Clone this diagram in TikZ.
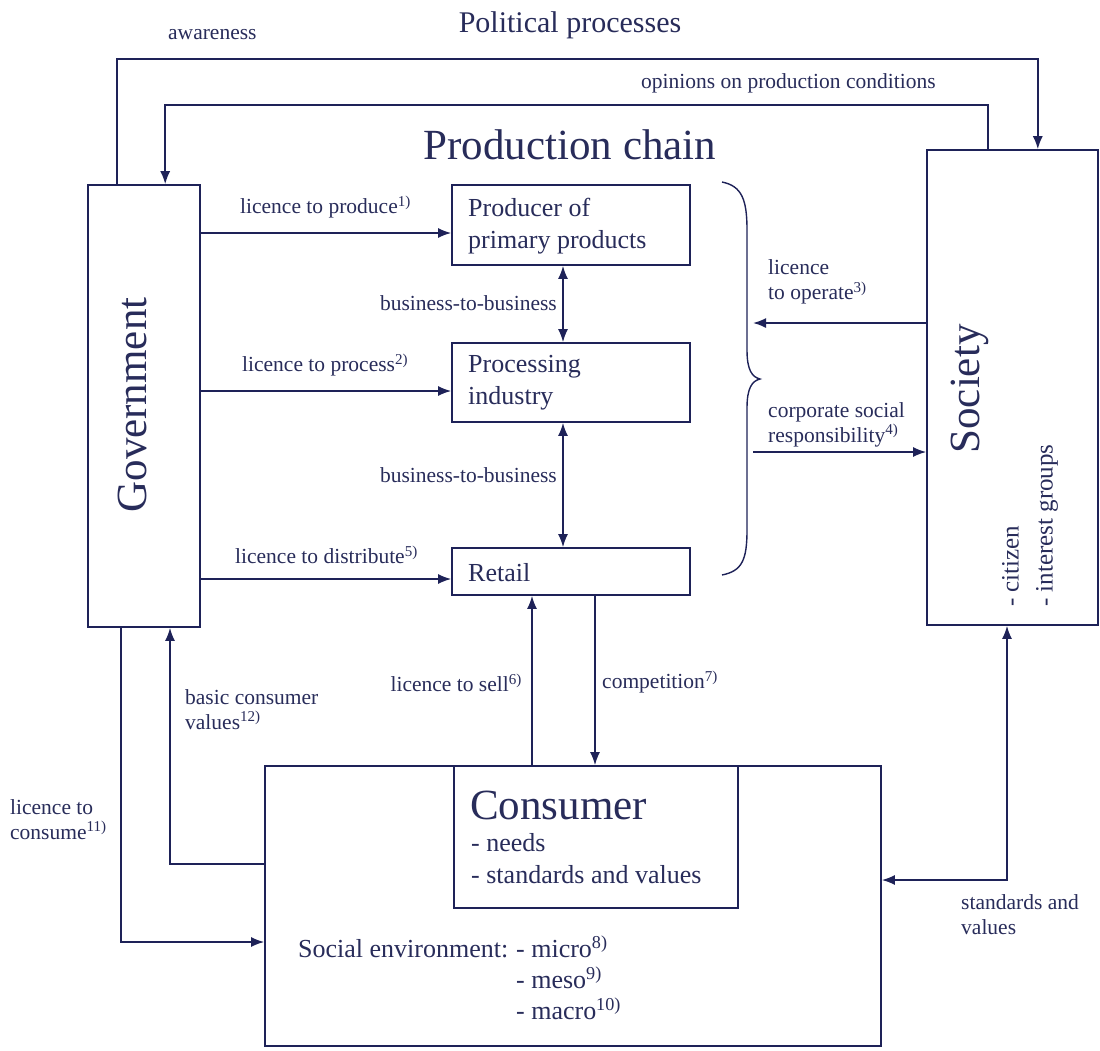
\documentclass[tikz,border=0pt]{standalone}
\usepackage{fontspec}
\setmainfont{Liberation Serif}
\usetikzlibrary{arrows.meta}
\definecolor{navy}{RGB}{30,34,88}
\definecolor{inkc}{RGB}{40,44,90}
\begin{document}
\begin{tikzpicture}[x=1pt,y=-1pt,
  box/.style={draw=navy,line width=1.6pt,inner sep=0pt,rectangle},
  arr/.style={draw=navy,line width=1.7pt,-{Latex[length=13pt,width=10pt]}},
  dbl/.style={draw=navy,line width=1.7pt,{Latex[length=13pt,width=10pt]}-{Latex[length=13pt,width=10pt]}},
  lab/.style={text=inkc,inner sep=0pt,font=\fontsize{21.5}{25}\selectfont,align=left},
  boxtxt/.style={text=inkc,inner sep=0pt,font=\fontsize{26}{32}\selectfont,align=left},
  big/.style={text=inkc,inner sep=0pt,font=\fontsize{43}{48}\selectfont}]
\useasboundingbox[fill=white] (0,0) rectangle (1100,1050);

% main boxes
\node[box,minimum width=112pt,minimum height=442pt] (gov) at (144,406) {};
\node[box,minimum width=171pt,minimum height=475pt] (soc) at (1012.5,387.5) {};
\node[box,minimum width=238pt,minimum height=80pt] (prod) at (571,225) {};
\node[box,minimum width=238pt,minimum height=79pt] (proc) at (571,382.5) {};
\node[box,minimum width=238pt,minimum height=47pt] (retail) at (571,571.5) {};
\node[box,minimum width=616pt,minimum height=280pt] (cout) at (573,906) {};
\node[box,minimum width=284pt,minimum height=142pt] (cin) at (596,837) {};

% titles
\node[text=inkc,inner sep=0pt,font=\fontsize{30}{34}\selectfont] (pol) at (570,25) {Political processes};
\node[big] (pchain) at (570,145) {Production chain};
\node[big,rotate=90] (govtxt) at (132,405) {Government};
\node[big,rotate=90] (soctxt) at (970,389) {Society};
\node[text=inkc,inner sep=0pt,font=\fontsize{25}{34}\selectfont,align=left,rotate=90,anchor=west] (soclist) at (1030,607) {- citizen\\- interest groups};

% box texts
\node[boxtxt,anchor=west] (prodtxt) at (468,226) {Producer of\\primary products};
\node[boxtxt,anchor=west] (proctxt) at (468,383) {Processing\\industry};
\node[boxtxt,anchor=west] (rettxt) at (468,573) {Retail};
\node[big,anchor=west] (constxt) at (470,805) {Consumer};
\node[boxtxt,anchor=west] (conslist) at (471,859) {- needs\\- standards and values};
\node[boxtxt,anchor=north west,font=\fontsize{26}{31}\selectfont] (socenv) at (298,936) {\begin{tabular}{@{}l@{\hspace{0.3em}}l@{}}Social environment: &- micro\textsuperscript{8)}\\ &- meso\textsuperscript{9)}\\ &- macro\textsuperscript{10)}\end{tabular}};

% labels
\node[lab,anchor=west] (lawar) at (168,35) {awareness};
\node[lab,anchor=west] (lopin) at (641,83) {opinions on production conditions};
\node[lab,anchor=west] (lprod) at (240,207) {licence to produce\textsuperscript{1)}};
\node[lab,anchor=west] (lproc) at (242,365) {licence to process\textsuperscript{2)}};
\node[lab,anchor=west] (ldist) at (235,555) {licence to distribute\textsuperscript{5)}};
\node[lab,anchor=east] (lbb1) at (557,303) {business-to-business};
\node[lab,anchor=east] (lbb2) at (557,475) {business-to-business};
\node[lab,anchor=west] (lop) at (768,282) {licence\\to operate\textsuperscript{3)}};
\node[lab,anchor=west] (lcsr) at (768,424.5) {corporate social\\responsibility\textsuperscript{4)}};
\node[lab,anchor=east] (lsell) at (522,683) {licence to sell\textsuperscript{6)}};
\node[lab,anchor=west] (lcomp) at (602,682) {competition\textsuperscript{7)}};
\node[lab,anchor=west] (lbasic) at (185,709.5) {basic consumer\\values\textsuperscript{12)}};
\node[lab,anchor=west] (lcons) at (10,819.5) {licence to\\consume\textsuperscript{11)}};
\node[lab,anchor=west] (lstd) at (961,914.5) {standards and\\values};

% political process loops
\draw[arr] ([xshift=30pt]gov.north west) -- ++(0,-125) -| ([xshift=-61pt]soc.north east);
\draw[arr] ([xshift=62pt]soc.north west) -- ++(0,-44) -| ([xshift=78pt]gov.north west);

% licences from government
\coordinate (p1) at ([yshift=-8pt]prod.west);
\coordinate (p2) at ([yshift=-8.5pt]proc.west);
\coordinate (p3) at ([yshift=-7.5pt]retail.west);
\draw[arr] (gov.east |- p1) -- (p1);
\draw[arr] (gov.east |- p2) -- (p2);
\draw[arr] (gov.east |- p3) -- (p3);

% business to business
\draw[dbl] ([xshift=-8pt]prod.south) -- ([xshift=-8pt]proc.north);
\draw[dbl] ([xshift=-8pt]proc.south) -- ([xshift=-8pt]retail.north);

% brace
\draw[navy,line width=1.4pt] (722,182) .. controls (742,186) and (747,200) .. (747,230) -- (747,350) .. controls (747,370) and (752,377) .. (760,379) .. controls (752,381) and (747,388) .. (747,408) -- (747,530) .. controls (747,560) and (742,571) .. (722,575);

% society arrows
\coordinate (bo) at (753,323);
\coordinate (bc) at (753,452);
\draw[arr] (soc.west |- bo) -- (bo);
\draw[arr] (bc) -- (soc.west |- bc);

% retail - consumer
\coordinate (ls) at ([xshift=-39pt]retail.south);
\coordinate (cp) at ([xshift=24pt]retail.south);
\draw[arr] (ls |- cout.north) -- (ls);
\draw[arr] (cp) -- (cp |- cout.north);

% standards and values
\draw[dbl] ([xshift=-5.5pt]soc.south) |- ([yshift=26pt]cout.east);

% government - consumer
\draw[arr] ([yshift=42pt]cout.west) -| ([xshift=26pt]gov.south);
\draw[arr] ([xshift=-23pt]gov.south) |- ([yshift=-36pt]cout.west);
\end{tikzpicture}
\end{document}
